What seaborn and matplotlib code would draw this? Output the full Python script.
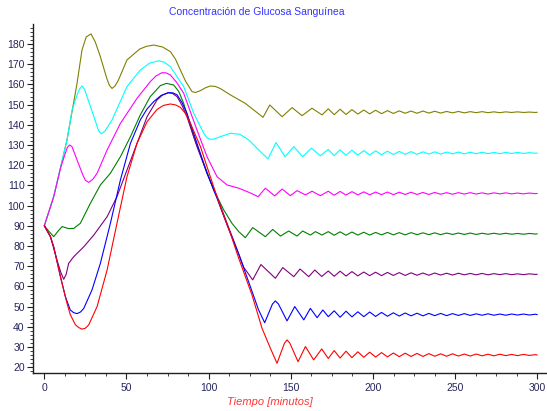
import numpy as np
import pandas as pd
import matplotlib
matplotlib.use("Agg")
import matplotlib.pyplot as plt
from matplotlib.ticker import MultipleLocator
import seaborn as sns

# --- blood glucose response curves (mg/dL vs minutes) ---
red_t = [0, 3.7, 5.7, 9.8, 13.8, 15.8, 18.9, 20.9, 22.9, 25, 27, 32.1, 38.2, 44.2, 50.3, 56.4, 62.5,
         68.6, 72.5, 76.7, 80, 82.8, 86, 88.9, 95, 101, 107.1, 113.2, 118.3, 126.4, 132.5, 137.6,
         141.6, 146.1, 147.7, 149.4, 154.4, 158.9, 163.9, 168.8]
red_v = [90, 84.6, 79.6, 64.8, 51.6, 46, 41, 39.6, 38.8, 39.3, 40.9, 50, 68.1, 91.2, 114.3, 130.8, 141.5,
         147.6, 149.6, 150.3, 149.8, 148.6, 145.5, 140.7, 129.2, 114.3, 99.5, 86.3, 73.9, 55.7, 39.2,
         29.3, 21.9, 31.8, 33.5, 31.9, 22.7, 30.2, 23.6, 29.0]

blue_t = [0, 3.7, 5.7, 9.8, 12.8, 15.8, 17.8, 19.9, 22, 24, 29, 34.1, 40.2, 46.3, 52.4, 58.4, 62.5,
          66.6, 71, 75.7, 78.3, 80.8, 83.8, 86.8, 92.9, 99, 105.1, 111.2, 118.3, 126.4, 130.3, 134.1,
          138.8, 140.6, 142.5, 147.7, 152.4, 157.9, 161.9, 166, 169.5]
blue_v = [90, 84.6, 79.6, 64.8, 54.9, 48.3, 47, 46.5, 47.3, 49.1, 58.2, 71.4, 91.2, 112.7, 130.8, 142.4,
          147.8, 151.5, 154.5, 155.9, 155.8, 154.8, 151, 145.7, 130.8, 116, 103.6, 90.4, 76, 57.5,
          48.5, 42.0, 51.2, 52.8, 51.2, 42.9, 50, 43.4, 49.1, 44.5, 48.3]

purple_t = [0, 3.7, 7.7, 10, 11.8, 13.3, 14.8, 17.9, 24, 30.1, 38.2, 44.2, 50.3, 56.4, 62.5, 68.6, 72,
            75.3, 78, 80.8, 83.8, 86.8, 92.9, 99, 105.1, 111.2, 116, 121.3, 126.8, 131.8, 140.6,
            145.1, 151.8, 155.6, 160.9, 164.6, 168.8]
purple_v = [90, 84.6, 73, 67, 63.5, 66, 71.4, 74.7, 79.6, 85.4, 94.5, 104.4, 117.6, 130.8, 144, 152.3,
            154.8, 155.9, 155.5, 153.9, 149.6, 144, 129.2, 116, 104.4, 91.2, 81, 69.5, 63.2, 70.8,
            64, 69.3, 64.8, 68.6, 64.8, 68.1, 64.9]

green_t = [0, 2.5, 5.7, 8.5, 10.8, 14.8, 17.9, 21.9, 28, 34.1, 40.2, 46.3, 52.4, 58.4, 64.5, 70.6, 74.3,
           78.7, 81.8, 84.8, 90.9, 97, 103.1, 109.2, 114.2, 118.3, 122.3, 126.8, 134.5, 139, 143.7,
           148.7, 153.8, 157.2, 161.9, 165, 169]
green_v = [90, 87.5, 84.6, 87.5, 89.6, 88.6, 88.7, 91.2, 101.1, 110.2, 116, 124.2, 134.1, 144.9, 154,
           159.4, 160.5, 159.7, 156.5, 150.6, 134.1, 120.9, 107.7, 97.8, 91.2, 87.1, 84.1, 89.1, 84.6,
           88.2, 84.9, 87.4, 84.9, 87.4, 85.4, 87.1, 85.4]

magenta_t = [0, 5.7, 10, 12.8, 14, 15.4, 16.8, 19.9, 23.5, 25, 27, 29.5, 32.1, 38.2, 46.3, 56.4, 64.5,
             68, 71.6, 74, 76.7, 80.5, 84.8, 92.9, 99, 105.1, 111.2, 118.3, 124.4, 130.1, 134.5,
             140.2, 144.7, 149.7, 153.8, 158.9, 162.9, 168]
magenta_v = [90, 104.4, 119, 125.9, 128.8, 130, 129.2, 122.6, 115, 112.5, 111.5, 113, 116, 127.5, 140.7,
             153.1, 161.4, 164.2, 165.8, 165.7, 164.7, 161, 155.6, 137.4, 124.2, 114.3, 110.2, 108.6,
             106.6, 104.4, 108.6, 104.8, 108.2, 104.9, 107.4, 105.3, 107.1, 104.9]

cyan_t = [0, 5.7, 13.8, 16.9, 20, 21.5, 22.9, 24.5, 27, 31, 33, 34.7, 36.8, 41.2, 50.3, 58.4, 64, 69.6,
          73, 76.7, 84.8, 90.9, 97, 99, 101, 103.5, 107.1, 113.2, 119, 124.4, 130.5, 136.1, 141, 146.5,
          151.8, 157.2, 162.5, 168]
cyan_v = [90, 104.4, 132.5, 147.3, 155, 157.8, 159.2, 157.5, 151.5, 142, 137, 135.5, 136.8, 142.4,
          158.9, 167.1, 170.5, 171.7, 171, 168.8, 158.9, 145.7, 135.8, 133.5, 132.8, 133, 134.1, 135.8,
          135.3, 132.5, 127.5, 123.1, 131.2, 124.2, 129.2, 124.2, 128.4, 124.7]

olive_t = [0, 5.7, 13.8, 19.9, 22.9, 25.5, 28.4, 31, 34.1, 38, 39.6, 41.2, 43, 45, 50.3, 58, 62, 66.6,
           72, 76.7, 79.8, 82.8, 86, 89.9, 92, 95, 98, 101, 104, 107, 113.2, 122.3, 133.1, 137.2, 144.7,
           150.8, 156.8, 162.9, 169]
olive_v = [90, 104.4, 132.5, 160.5, 177, 183.5, 185, 181, 173.7, 163, 159.5, 158, 159.2, 162, 172.1,
           177.5, 178.8, 179.5, 178.5, 176.2, 172.5, 167.1, 161.5, 156.4, 156.0, 156.9, 158.3, 159.2,
           159.0, 158, 154.8, 150.6, 143.7, 149.8, 144, 148.5, 144.5, 148.2, 144.9]

# settling oscillations, common time grid
tail_t = [172.8, 176.4, 180.0, 183.6, 187.2, 190.8, 194.4, 198.0, 201.6, 205.2, 208.8, 212.4, 216.0,
          219.6, 223.2, 226.8, 230.4, 234.0, 237.6, 241.2, 244.8, 248.4, 252.0, 255.6, 259.2, 262.8,
          266.4, 270.0, 273.6, 277.2, 280.8, 284.4, 288.0, 291.6, 295.2, 298.8, 300]
red_tail = [24.3, 28.2, 24.5, 27.9, 24.7, 27.6, 24.9, 27.4, 25.0, 27.2, 25.1, 27.0, 25.2, 26.9, 25.3,
            26.8, 25.3, 26.7, 25.4, 26.6, 25.4, 26.6, 25.5, 26.5, 25.5, 26.5, 25.6, 26.4, 25.6, 26.4,
            25.7, 26.3, 25.7, 26.3, 25.8, 26.2, 26.0]
blue_tail = [45.0, 47.9, 44.7, 47.7, 44.9, 47.4, 45.0, 47.3, 45.1, 47.1, 45.2, 46.9, 45.3, 46.8, 45.4,
             46.7, 45.4, 46.6, 45.5, 46.6, 45.5, 46.5, 45.6, 46.5, 45.6, 46.4, 45.7, 46.4, 45.7, 46.3,
             45.7, 46.3, 45.8, 46.3, 45.8, 46.2, 46.0]
purple_tail = [67.6, 65.0, 67.5, 65.1, 67.3, 65.2, 67.1, 65.3, 67.0, 65.3, 66.9, 65.4, 66.8, 65.4, 66.7,
               65.5, 66.6, 65.5, 66.6, 65.6, 66.5, 65.6, 66.5, 65.7, 66.4, 65.7, 66.4, 65.7, 66.3, 65.8,
               66.3, 65.8, 66.2, 65.8, 66.2, 65.9, 66.0]
green_tail = [87.1, 85.3, 87.0, 85.3, 86.9, 85.4, 86.8, 85.4, 86.7, 85.5, 86.7, 85.5, 86.6, 85.5, 86.6,
              85.6, 86.5, 85.6, 86.5, 85.6, 86.4, 85.7, 86.4, 85.7, 86.4, 85.7, 86.3, 85.8, 86.3, 85.8,
              86.3, 85.8, 86.2, 85.8, 86.2, 85.9, 86.0]
magenta_tail = [107.1, 105.1, 107.0, 105.2, 106.9, 105.3, 106.8, 105.3, 106.7, 105.4, 106.7, 105.4,
                106.6, 105.5, 106.6, 105.5, 106.5, 105.5, 106.5, 105.6, 106.4, 105.6, 106.4, 105.7,
                106.4, 105.7, 106.3, 105.7, 106.3, 105.8, 106.3, 105.8, 106.2, 105.8, 106.2, 105.9, 106.0]
cyan_tail = [127.8, 124.7, 127.6, 124.9, 127.4, 125.0, 127.2, 125.1, 127.1, 125.2, 126.9, 125.3, 126.8,
             125.4, 126.7, 125.4, 126.6, 125.5, 126.6, 125.5, 126.5, 125.6, 126.5, 125.6, 126.4, 125.7,
             126.4, 125.7, 126.3, 125.7, 126.3, 125.8, 126.3, 125.8, 126.2, 125.9, 126.0]
olive_tail = [147.9, 145.0, 147.7, 145.1, 147.5, 145.3, 147.3, 145.4, 147.2, 145.5, 147.0, 145.6, 146.9,
              145.7, 146.8, 145.7, 146.8, 145.8, 146.7, 145.8, 146.6, 145.9, 146.6, 145.9, 146.5, 146.0,
              146.5, 146.0, 146.4, 146.0, 146.4, 146.1, 146.4, 146.1, 146.3, 146.1, 146.2]

series = [
    ("olive", olive_t, olive_v, olive_tail, "#808000"),
    ("cyan", cyan_t, cyan_v, cyan_tail, "#00ffff"),
    ("magenta", magenta_t, magenta_v, magenta_tail, "#ff00ff"),
    ("green", green_t, green_v, green_tail, "#008000"),
    ("purple", purple_t, purple_v, purple_tail, "#800080"),
    ("blue", blue_t, blue_v, blue_tail, "#0000ff"),
    ("red", red_t, red_v, red_tail, "#ff0000"),
]

frames = []
for name, t, v, tail, _ in series:
    frames.append(pd.DataFrame({"t": list(t) + tail_t, "v": list(v) + tail, "serie": name}))
df = pd.concat(frames, ignore_index=True)
palette = {name: color for name, _, _, _, color in series}

sns.set_style("ticks")
plt.rcParams["font.family"] = ["Liberation Sans", "DejaVu Sans"]

fig = plt.figure(figsize=(5.47, 4.11), dpi=100)
ax = fig.add_axes([33 / 547, 1 - 373 / 411, (546 - 33) / 547, (373 - 24) / 411])

sns.lineplot(data=df, x="t", y="v", hue="serie", palette=palette, estimator=None,
             sort=False, legend=False, linewidth=0.8, ax=ax)

ax.set_xlim(-6.9, 305.3)
ax.set_ylim(17.1, 189.9)
ax.xaxis.set_major_locator(MultipleLocator(50))
ax.xaxis.set_minor_locator(MultipleLocator(12.5))
ax.set_yticks(np.arange(20, 181, 10))
ax.yaxis.set_minor_locator(MultipleLocator(2))
ax.set_xlabel("")
ax.set_ylabel("")

for side in ("top", "right"):
    ax.spines[side].set_visible(False)
for side in ("left", "bottom"):
    ax.spines[side].set_color("#202020")
    ax.spines[side].set_linewidth(1.0)

tick_color = "#25255e"
ax.tick_params(axis="both", which="major", length=4.5, width=0.8, color="#202020",
               labelsize=7.5, labelcolor=tick_color)
ax.tick_params(axis="both", which="minor", length=2.5, width=0.6, color="#202020")
ax.tick_params(axis="y", which="major", pad=1.5)
ax.tick_params(axis="x", which="major", pad=3)

fig.text(257 / 547, 1 - 12 / 411, "Concentración de Glucosa Sanguínea", color="#3333ff",
         fontsize=7.5, ha="center", va="center")
fig.text(270 / 547, 1 - 402 / 411, "Tiempo [minutos]", color="#ff3333", fontsize=8,
         style="italic", ha="center", va="center")

fig.savefig("out.png", dpi=100)
